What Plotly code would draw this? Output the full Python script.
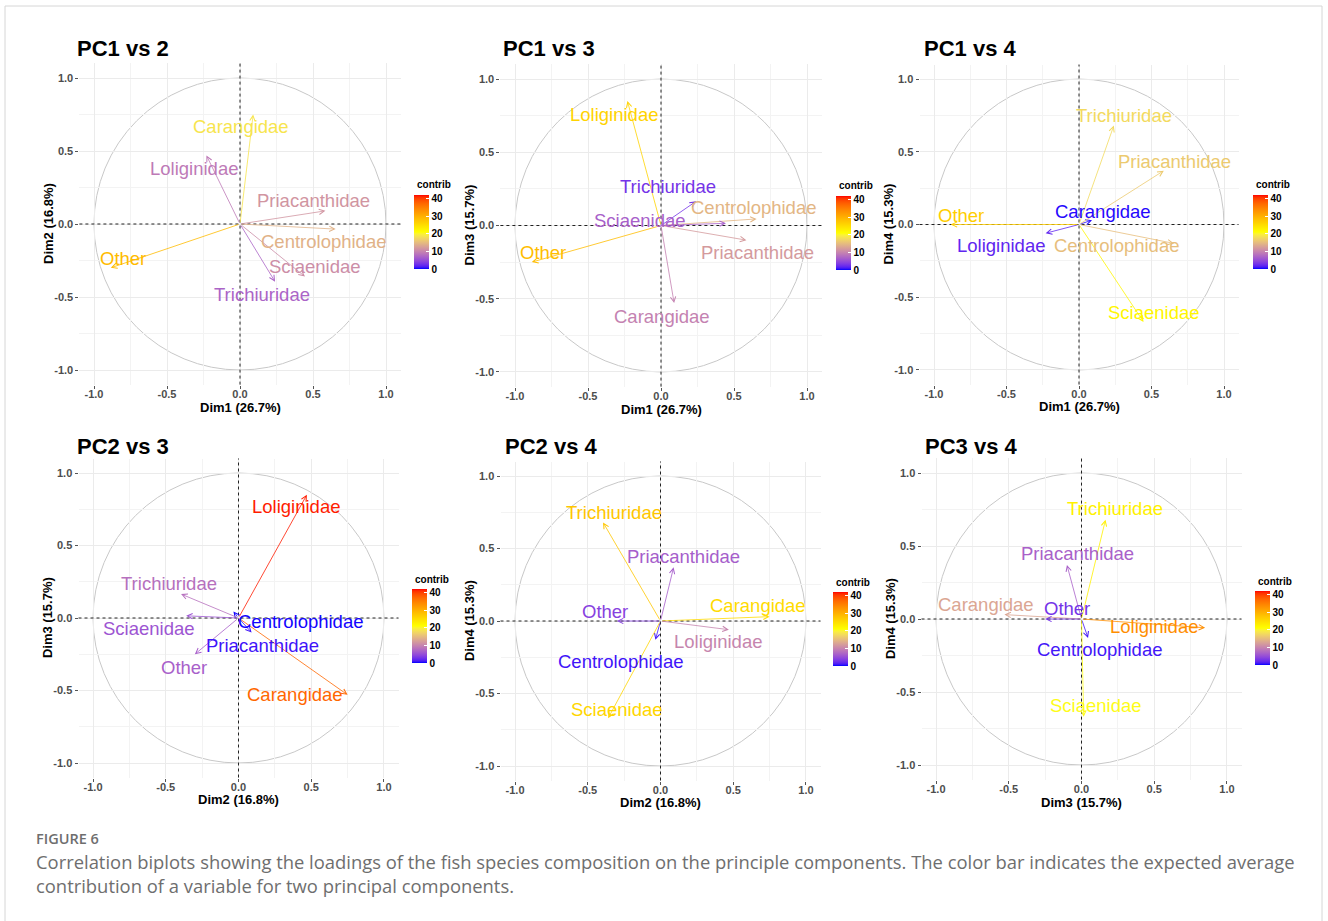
import numpy as np
import plotly.graph_objects as go

# ---------------- data ----------------
species = ["Carangidae", "Centrolophidae", "Loliginidae", "Other",
           "Priacanthidae", "Sciaenidae", "Trichiuridae"]
dim1 = [0.09, 0.655, -0.23, -0.885, 0.585, 0.445, 0.24]
dim2 = [0.75, -0.035, 0.47, -0.30, 0.09, -0.36, -0.395]
dim3 = [-0.53, 0.045, 0.85, -0.25, -0.10, 0.015, 0.165]
dim4 = [0.03, -0.13, -0.06, 0.0, 0.37, -0.67, 0.68]
dims = [dim1, dim2, dim3, dim4]
dim_labels = ["Dim1 (26.7%)", "Dim2 (16.8%)", "Dim3 (15.7%)", "Dim4 (15.3%)"]

panel_titles = ["PC1 vs 2", "PC1 vs 3", "PC1 vs 4", "PC2 vs 3", "PC2 vs 4", "PC3 vs 4"]
panel_axes = [(0, 1), (0, 2), (0, 3), (1, 2), (1, 3), (2, 3)]

contrib_pc1_2 = [18.7, 14.1, 9.0, 28.7, 11.5, 10.8, 7.0]
contrib_pc1_3 = [9.7, 14.5, 26.1, 28.5, 11.9, 6.7, 2.9]
contrib_pc1_4 = [0.3, 15.2, 1.9, 26.6, 16.3, 22.0, 17.7]
contrib_pc2_3 = [37.1, 0.1, 41.5, 6.7, 0.8, 5.7, 8.1]
contrib_pc2_4 = [25.1, 0.8, 10.0, 4.0, 6.5, 25.7, 27.5]
contrib_pc3_4 = [13.0, 0.9, 33.5, 2.9, 6.8, 20.7, 22.6]
contribs = [contrib_pc1_2, contrib_pc1_3, contrib_pc1_4,
            contrib_pc2_3, contrib_pc2_4, contrib_pc3_4]

tick_values = [-1.0, -0.5, 0.0, 0.5, 1.0]
tick_text = ["-1.0", "-0.5", "0.0", "0.5", "1.0"]
minor_ticks = [-0.75, -0.25, 0.25, 0.75]
cbar_ticks = [0, 10, 20, 30, 40]
cbar_title = "contrib"

caption_label = "FIGURE 6"
caption_line1 = ("Correlation biplots showing the loadings of the fish species composition on the "
                 "principle components. The color bar indicates the expected average")
caption_line2 = "contribution of a variable for two principal components."

# ---------------- layout / style ----------------
W, H = 1328, 921
# plot areas in pixels: (left, right, top, bottom)
panel_px = [
    (79.4, 400.6, 63.4, 384.6),
    (500.4, 821.6, 64.4, 386.6),
    (919.5, 1238.5, 64.5, 384.5),
    (78.5, 398.5, 458.5, 777.5),
    (500.5, 820.5, 461.5, 780.5),
    (921.5, 1241.5, 458.4, 779.6),
]
title_px = [(75, 48), (501, 48), (922, 48), (75, 446), (503, 446), (923, 446)]
cbar_px = [(414, 195), (836, 196), (1253, 195), (412, 589), (833, 592), (1255, 591)]
# label pixel offsets (dx right, dy down) per panel, species order
label_off = [
    [(-12, 12), (-12, 12), (-12, 13), (12, -9), (-12, -10), (10, -10), (-13, 13)],
    [(-12, 13), (-3, -11), (-13, 13), (11, -10), (11, 12), (-86, -3), (-28, -15)],
    [(11, -9), (-57, 2), (-45, 12), (10, -9), (11, -9), (10, -9), (10, -10)],
    [(-53, 0), (67, 10), (-11, 12), (-11, 13), (11, 13), (-37, 13), (-12, -11)],
    [(-12, -11), (-35, 22), (-11, 12), (-12, -10), (10, -11), (9, -9), (11, -10)],
    [(-18, -10), (11, 12), (-51, -1), (22, -11), (11, -11), (12, -11), (9, -11)],
]
CMAX = 42.0
FONT = "Liberation Sans"


def px_x(v):
    return v / W


def px_y(v):
    return 1 - v / H


# Lab-space colour ramp blue -> yellow -> red (like ggplot gradientn)
def _to_lab(hexc):
    rgb = np.array([int(hexc[i:i + 2], 16) / 255 for i in (1, 3, 5)])
    lin = np.where(rgb <= 0.04045, rgb / 12.92, ((rgb + 0.055) / 1.055) ** 2.4)
    M = np.array([[0.4124564, 0.3575761, 0.1804375],
                  [0.2126729, 0.7151522, 0.0721750],
                  [0.0193339, 0.1191920, 0.9503041]])
    xyz = M @ lin / np.array([0.95047, 1.0, 1.08883])
    f = np.where(xyz > 0.008856, np.cbrt(xyz), 7.787 * xyz + 16 / 116)
    return np.array([116 * f[1] - 16, 500 * (f[0] - f[1]), 200 * (f[1] - f[2])])


def _from_lab(lab):
    fy = (lab[0] + 16) / 116
    fx = fy + lab[1] / 500
    fz = fy - lab[2] / 200
    f = np.array([fx, fy, fz])
    xyz = np.where(f ** 3 > 0.008856, f ** 3, (f - 16 / 116) / 7.787)
    xyz = xyz * np.array([0.95047, 1.0, 1.08883])
    Minv = np.array([[3.2404542, -1.5371385, -0.4985314],
                     [-0.9692660, 1.8760108, 0.0415560],
                     [0.0556434, -0.2040259, 1.0572252]])
    lin = np.clip(Minv @ xyz, 0, 1)
    rgb = np.where(lin <= 0.0031308, 12.92 * lin, 1.055 * lin ** (1 / 2.4) - 0.055)
    rgb = np.clip(np.round(rgb * 255), 0, 255).astype(int)
    return "#%02X%02X%02X" % tuple(rgb)


_LABS = [_to_lab("#0000FF"), _to_lab("#FFFF00"), _to_lab("#FF0000")]


def ramp(v):
    t = min(max(v / CMAX, 0.0), 1.0)
    if t <= 0.5:
        s = t / 0.5
        lab = _LABS[0] * (1 - s) + _LABS[1] * s
    else:
        s = (t - 0.5) / 0.5
        lab = _LABS[1] * (1 - s) + _LABS[2] * s
    return _from_lab(lab)


colorscale = [[i / 40, ramp(CMAX * i / 40)] for i in range(41)]

fig = go.Figure()
annotations = []
shapes = []
layout = {}
bold13 = dict(family=FONT, size=13, color="#000000", weight="bold")

for p in range(6):
    ia, ib = panel_axes[p]
    xs, ys = dims[ia], dims[ib]
    con = contribs[p]
    sfx = "" if p == 0 else str(p + 1)
    xa, ya = "x" + sfx, "y" + sfx
    l, r, t, b = panel_px[p]
    axis_common = dict(range=[-1.1, 1.1], tickvals=tick_values, ticktext=tick_text,
                       showgrid=True, gridcolor="#EBEBEB", gridwidth=1,
                       minor=dict(tickvals=minor_ticks, showgrid=True,
                                  gridcolor="#F3F3F3", gridwidth=0.8),
                       zeroline=False, showline=False,
                       ticks="outside", ticklen=3, tickcolor="#555555", tickwidth=1,
                       tickfont=dict(family=FONT, size=11, color="#4D4D4D", weight="bold"),
                       fixedrange=True)
    layout["xaxis" + sfx] = dict(domain=[px_x(l), px_x(r)], anchor=ya,
                                 ticklabelstandoff=-4, **axis_common)
    layout["yaxis" + sfx] = dict(domain=[px_y(b), px_y(t)], anchor=xa, **axis_common)

    # axis titles
    annotations.append(dict(xref="paper", yref="paper", x=px_x((l + r) / 2), y=px_y(b + 22.4),
                            xanchor="center", yanchor="middle", showarrow=False,
                            text=dim_labels[ia], font=bold13))
    annotations.append(dict(xref="paper", yref="paper", x=px_x(l - 31.4), y=px_y((t + b) / 2),
                            xanchor="center", yanchor="middle", showarrow=False,
                            textangle=-90, text=dim_labels[ib], font=bold13))

    # circle
    shapes.append(dict(type="circle", xref=xa, yref=ya, x0=-1, y0=-1, x1=1, y1=1,
                       line=dict(color="#C8C8C8", width=1), layer="below"))
    # dashed axes lines
    shapes.append(dict(type="line", xref=xa + " domain", yref=ya, x0=0, x1=1, y0=0, y1=0,
                       line=dict(color="#222222", width=1, dash="3px,3px")))
    shapes.append(dict(type="line", xref=xa, yref=ya + " domain", x0=0, x1=0, y0=0, y1=1,
                       line=dict(color="#222222", width=1, dash="3px,3px")))

    # colour axis + colorbar via an invisible marker trace
    cax = "coloraxis" + sfx
    bx, by = cbar_px[p]
    layout[cax] = dict(cmin=0, cmax=CMAX, colorscale=colorscale,
                       colorbar=dict(x=px_x(bx), xanchor="left", y=px_y(by), yanchor="top",
                                     xref="paper", yref="paper",
                                     len=74, lenmode="pixels", thickness=15,
                                     thicknessmode="pixels", xpad=0, ypad=0,
                                     outlinewidth=0, tickvals=cbar_ticks,
                                     ticks="inside", ticklen=3, tickcolor="#FFFFFF",
                                     tickfont=dict(family=FONT, size=10, color="#000000",
                                                   weight="bold")))
    fig.add_trace(go.Scatter(x=xs, y=ys, mode="markers", xaxis=xa, yaxis=ya,
                             marker=dict(size=1, opacity=0, color=con, coloraxis=cax),
                             hoverinfo="skip", showlegend=False))

    annotations.append(dict(xref="paper", yref="paper", x=px_x(bx + 1), y=px_y(by - 10),
                            xanchor="left", yanchor="middle", showarrow=False, text=cbar_title,
                            font=dict(family=FONT, size=10, color="#000000", weight="bold")))

    # arrows and labels
    for k, name in enumerate(species):
        col = ramp(con[k])
        annotations.append(dict(xref=xa, yref=ya, axref=xa, ayref=ya, x=xs[k], y=ys[k],
                                ax=0, ay=0, text="", showarrow=True, arrowhead=5,
                                arrowsize=1.3, arrowwidth=0.8, arrowcolor=col, standoff=0))
    for k, name in enumerate(species):
        col = ramp(con[k])
        dx, dy = label_off[p][k]
        annotations.append(dict(xref=xa, yref=ya, x=xs[k], y=ys[k], xshift=dx, yshift=-dy,
                                text=name, showarrow=False, xanchor="center",
                                yanchor="middle",
                                font=dict(family=FONT, size=18.5, color=col)))

    # title
    tx, ty = title_px[p]
    annotations.append(dict(xref="paper", yref="paper", x=px_x(tx), y=px_y(ty),
                            xanchor="left", yanchor="middle", showarrow=False,
                            text=panel_titles[p],
                            font=dict(family=FONT, size=22, color="#000000", weight="bold")))

# caption
annotations.append(dict(xref="paper", yref="paper", x=px_x(34), y=px_y(838), xanchor="left",
                        yanchor="middle", showarrow=False, text=caption_label,
                        font=dict(family="Open Sans", size=14.5, color="#6E6E6E", weight=600)))
annotations.append(dict(xref="paper", yref="paper", x=px_x(34), y=px_y(861), xanchor="left",
                        yanchor="middle", showarrow=False, text=caption_line1,
                        font=dict(family="Open Sans", size=18.4, color="#6E6E6E")))
annotations.append(dict(xref="paper", yref="paper", x=px_x(34), y=px_y(885), xanchor="left",
                        yanchor="middle", showarrow=False, text=caption_line2,
                        font=dict(family="Open Sans", size=18.4, color="#6E6E6E")))

# frame
shapes.append(dict(type="rect", xref="paper", yref="paper", x0=px_x(5), x1=px_x(1322),
                   y0=-0.02, y1=px_y(6), line=dict(color="#D6D6D6", width=1)))

fig.update_layout(width=W, height=H, margin=dict(l=0, r=0, t=0, b=0),
                  paper_bgcolor="white", plot_bgcolor="white", showlegend=False,
                  annotations=annotations, shapes=shapes, **layout)

fig.write_html("out.html", config={"displayModeBar": False},
               post_script="document.body.style.margin='0';")
